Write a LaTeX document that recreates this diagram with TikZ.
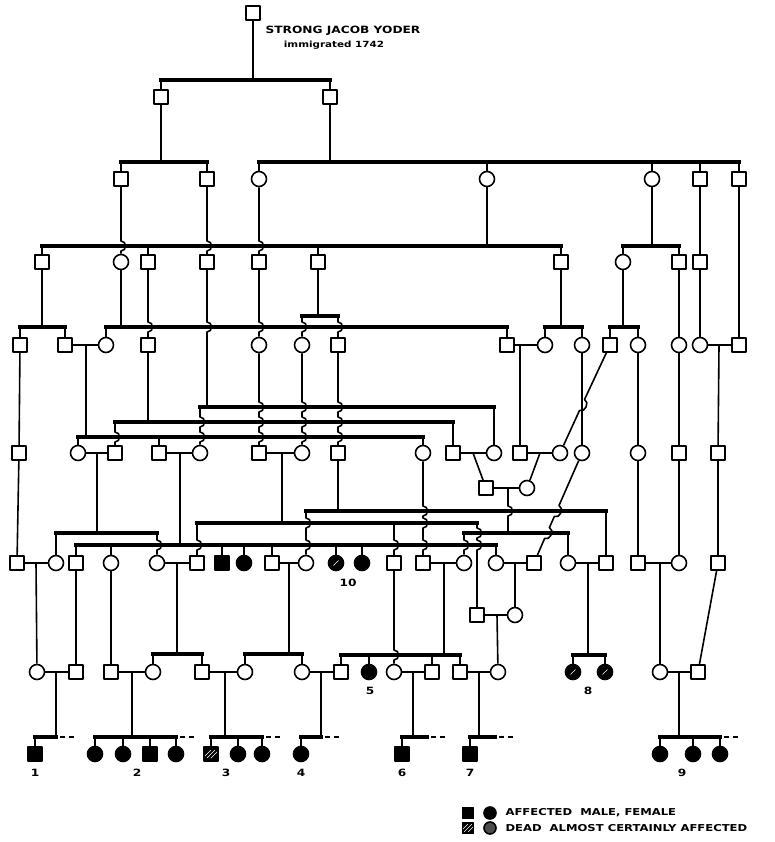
\documentclass[tikz,border=0pt]{standalone}
\usepackage{fontspec}
\usepackage{tikz}
\usetikzlibrary{calc}
\newfontfamily\lbl[FakeStretch=1.22]{DejaVu Sans}
\newcommand\hopv[2]{-- (#1,#2-5) .. controls +(6,0) and +(6,0) .. (#1,#2+5)}

\begin{document}
\begin{tikzpicture}[x=1pt,y=-1pt,line join=round,
  ln/.style={line width=1.6pt},
  sib/.style={line width=3.4pt,line cap=rect},
  dots/.style={line width=2.8pt,dash pattern=on 5pt off 4pt,dash phase=5pt},
  ml/.style={draw,rectangle,line width=1.6pt,fill=white,minimum size=13.5pt,inner sep=0pt},
  fe/.style={draw,circle,line width=1.6pt,fill=white,minimum size=15pt,inner sep=0pt},
  am/.style={ml,fill=black},
  af/.style={fe,fill=black},
  dm/.style={am,path picture={\foreach \d in {-4,0,4} \draw[white,line width=0.5pt] ([shift={(\d-4,4)}]path picture bounding box.center) -- ([shift={(\d+4,-4)}]path picture bounding box.center);}},
  df/.style={af,path picture={\draw[white,line width=0.6pt] ([shift={(-2.5,2.5)}]path picture bounding box.center) -- ([shift={(2.5,-2.5)}]path picture bounding box.center);}},
  num/.style={font=\lbl\bfseries\fontsize{10}{12}\selectfont}]
  \useasboundingbox (0,0) rectangle (775,842);
  \node[ml] (g1) at (253,13) {};
  \node[num,anchor=west] (ttl) at (262,31) {STRONG JACOB YODER};
  \node[font=\lbl\bfseries\fontsize{8.5}{10}\selectfont] (imm) at (334,45) {immigrated 1742};
  \node[ml] (g2a) at (161,97) {}; \node[ml] (g2b) at (330,97) {};
  \node[ml] (g3a) at (121,179) {}; \node[ml] (g3b) at (207,179) {}; \node[fe] (g3c) at (259,179) {}; \node[fe] (g3d) at (487,179) {};
  \node[fe] (g3e) at (652,179) {}; \node[ml] (g3f) at (700,179) {}; \node[ml] (g3g) at (739,179) {};
  \node[ml] (g4a) at (42,262) {}; \node[fe] (g4b) at (121,262) {}; \node[ml] (g4c) at (148,262) {}; \node[ml] (g4d) at (207,262) {};
  \node[ml] (g4e) at (259,262) {}; \node[ml] (g4f) at (318,262) {}; \node[ml] (g4g) at (561,262) {}; \node[fe] (g4h) at (623,262) {};
  \node[ml] (g4i) at (679,262) {}; \node[ml] (g4j) at (700,262) {};
  \node[ml] (g5a) at (20,345) {}; \node[ml] (g5b) at (65,345) {}; \node[fe] (g5c) at (106,345) {}; \node[ml] (g5d) at (148,345) {};
  \node[fe] (g5e) at (259,345) {}; \node[fe] (g5f) at (302,345) {}; \node[ml] (g5g) at (338,345) {}; \node[ml] (g5h) at (507,345) {};
  \node[fe] (g5i) at (545,345) {}; \node[fe] (g5j) at (582,345) {}; \node[ml] (g5k) at (610,345) {}; \node[fe] (g5l) at (638,345) {};
  \node[fe] (g5m) at (679,345) {}; \node[fe] (g5n) at (700,345) {}; \node[ml] (g5o) at (739,345) {};
  \node[ml] (g6a) at (19,453) {}; \node[fe] (g6b) at (78,453) {}; \node[ml] (g6c) at (115,453) {}; \node[ml] (g6d) at (159,453) {};
  \node[fe] (g6e) at (200,453) {}; \node[ml] (g6f) at (259,453) {}; \node[fe] (g6g) at (302,453) {}; \node[ml] (g6h) at (338,453) {};
  \node[fe] (g6i) at (423,453) {}; \node[ml] (g6j) at (453,453) {}; \node[fe] (g6k) at (494,453) {}; \node[ml] (g6l) at (520,453) {};
  \node[fe] (g6m) at (560,453) {}; \node[fe] (g6n) at (582,453) {}; \node[fe] (g6o) at (638,453) {}; \node[ml] (g6p) at (679,453) {};
  \node[ml] (g6q) at (718,453) {}; \node[ml] (g6r) at (486,488) {}; \node[fe] (g6s) at (527,488) {};
  \node[ml] (g7a) at (17,563) {}; \node[fe] (g7b) at (56,563) {}; \node[ml] (g7c) at (76,563) {}; \node[fe] (g7d) at (111,563) {};
  \node[fe] (g7e) at (157,563) {}; \node[ml] (g7f) at (197,563) {}; \node[am] (g7g) at (222,563) {}; \node[af] (g7h) at (244,563) {};
  \node[ml] (g7i) at (272,563) {}; \node[fe] (g7j) at (306,563) {}; \node[df] (g7k) at (336,563) {}; \node[af] (g7l) at (362,563) {};
  \node[ml] (g7m) at (394,563) {}; \node[ml] (g7n) at (423,563) {}; \node[fe] (g7o) at (464,563) {}; \node[fe] (g7p) at (496,563) {};
  \node[ml] (g7q) at (534,563) {}; \node[fe] (g7r) at (568,563) {}; \node[ml] (g7s) at (606,563) {}; \node[ml] (g7t) at (638,563) {};
  \node[fe] (g7u) at (679,563) {}; \node[ml] (g7v) at (718,563) {}; \node[ml] (g7w) at (477,615) {}; \node[fe] (g7x) at (515,615) {};
  \node[fe] (g8a) at (37,672) {}; \node[ml] (g8b) at (76,672) {}; \node[ml] (g8c) at (111,672) {}; \node[fe] (g8d) at (153,672) {};
  \node[ml] (g8e) at (202,672) {}; \node[fe] (g8f) at (245,672) {}; \node[fe] (g8g) at (302,672) {}; \node[ml] (g8h) at (341,672) {};
  \node[af] (g8i) at (369,672) {}; \node[fe] (g8j) at (394,672) {}; \node[ml] (g8k) at (432,672) {}; \node[ml] (g8l) at (460,672) {};
  \node[fe] (g8m) at (498,672) {}; \node[df] (g8n) at (573,672) {}; \node[df] (g8o) at (605,672) {}; \node[fe] (g8p) at (660,672) {};
  \node[ml] (g8q) at (698,672) {};
  \node[am] (g9a) at (35,754) {}; \node[af] (g9b) at (95,754) {}; \node[af] (g9c) at (123,754) {}; \node[am] (g9d) at (150,754) {};
  \node[af] (g9e) at (176,754) {}; \node[dm] (g9f) at (211,754) {}; \node[af] (g9g) at (238,754) {}; \node[af] (g9h) at (262,754) {};
  \node[af] (g9i) at (301,754) {}; \node[am] (g9j) at (402,754) {}; \node[am] (g9k) at (470,754) {}; \node[af] (g9l) at (660,754) {};
  \node[af] (g9m) at (693,754) {}; \node[af] (g9n) at (720,754) {};
  \node[num] (n10) at (348,583) {10}; \node[num] (n5) at (370,691) {5}; \node[num] (n8) at (588,691) {8};
  \node[num] (n1) at (35,773) {1}; \node[num] (n2) at (137,773) {2}; \node[num] (n3) at (226,773) {3}; \node[num] (n4) at (301,773) {4};
  \node[num] (n6) at (402,773) {6}; \node[num] (n7) at (470,773) {7}; \node[num] (n9) at (682,773) {9};
  \node[am,minimum size=11pt] (k1) at (468,813) {}; \node[af,minimum size=12pt] (k2) at (490,813) {};
  \node[num,anchor=west,font=\lbl\bfseries\fontsize{9.5}{11}\selectfont] (k3) at (502,813) {AFFECTED\ \ MALE, FEMALE};
  \node[dm,minimum size=11pt] (k4) at (468,828) {}; \node[af,fill=black!70,minimum size=12pt] (k5) at (490,828) {};
  \node[num,anchor=west,font=\lbl\bfseries\fontsize{9.5}{11}\selectfont] (k6) at (502,828) {DEAD\ \ ALMOST CERTAINLY AFFECTED};

  \coordinate (s1) at (253,80); \coordinate (s2a) at (161,162); \coordinate (s2b) at (330,162);
  \draw[ln] (g1) -- (s1); \draw[sib] (g2a |- s1) -- (g2b |- s1);
  \foreach \k in {g2a,g2b} \draw[ln] (\k) -- (\k |- s1);
  \draw[ln] (g2a) -- (s2a); \draw[ln] (g2b) -- (s2b);
  \draw[sib] (g3a |- s2a) -- (g3b |- s2a); \draw[sib] (g3c |- s2b) -- (g3g |- s2b);
  \foreach \k in {g3a,g3b} \draw[ln] (\k) -- (\k |- s2a);
  \foreach \k in {g3c,g3d,g3e,g3f,g3g} \draw[ln] (\k) -- (\k |- s2b);

  \coordinate (s3a) at (487,246); \coordinate (s3b) at (652,246);
  \draw[ln] (g3d) -- (s3a); \draw[ln] (g3e) -- (s3b);
  \draw[sib] (g4a |- s3a) -- (g4g |- s3a); \draw[sib] (g4h |- s3b) -- (g4i |- s3b);
  \foreach \k in {g4a,g4c,g4f,g4g} \draw[ln] (\k) -- (\k |- s3a);
  \foreach \k in {g4h,g4i} \draw[ln] (\k) -- (\k |- s3b);
  \draw[ln] (g3a) \hopv{121}{246} -- (g4b); \draw[ln] (g3b) \hopv{207}{246} -- (g4d); \draw[ln] (g3c) \hopv{259}{246} -- (g4e);
  \draw[ln] (g3f) -- (g4j); \draw[ln] (g3g) -- (g5o);

  \coordinate (s4a) at (42,327); \coordinate (s4b) at (121,327); \coordinate (s4c) at (318,316); \coordinate (s4d) at (561,327); \coordinate (s4e) at (623,327);
  \draw[ln] (g4a) -- (s4a); \draw[ln] (g4b) -- (s4b); \draw[ln] (g4f) -- (s4c); \draw[ln] (g4g) -- (s4d); \draw[ln] (g4h) -- (s4e);
  \draw[sib] (g5a |- s4a) -- (g5b |- s4a); \draw[sib] (g5c |- s4b) -- (g5h |- s4b); \draw[sib] (g5f |- s4c) -- (g5g |- s4c);
  \draw[sib] (g5i |- s4d) -- (g5j |- s4d); \draw[sib] (g5k |- s4e) -- (g5l |- s4e);
  \foreach \k/\z in {g5a/s4a,g5b/s4a,g5c/s4b,g5h/s4b,g5i/s4d,g5j/s4d,g5k/s4e,g5l/s4e} \draw[ln] (\k) -- (\k |- \z);
  \draw[ln] (g5f |- s4c) \hopv{302}{327} -- (g5f); \draw[ln] (g5g |- s4c) \hopv{338}{327} -- (g5g);
  \draw[ln] (g4c) \hopv{148}{327} -- (g5d); \draw[ln] (g4e) \hopv{259}{327} -- (g5e);
  \draw[ln] (g4i) -- (g5m); \draw[ln] (g4j) -- (g5n);
  \draw[ln] (g5b) -- (g5c); \draw[ln] (g5h) -- (g5i); \draw[ln] (g5n) -- (g5o);

  \coordinate (m5a) at (86,345); \coordinate (s5a) at (86,437); \coordinate (s5b) at (148,422); \coordinate (s5c) at (207,407);
  \coordinate (m5b) at (520,345); \coordinate (m5c) at (719,345);
  \draw[ln] (m5a) -- (s5a); \draw[ln] (g5d) -- (s5b); \draw[ln] (g4d) \hopv{207}{327} -- (s5c);
  \draw[sib] (g6b |- s5a) -- (g6i |- s5a); \draw[sib] (g6c |- s5b) -- (g6j |- s5b); \draw[sib] (g6e |- s5c) -- (g6k |- s5c);
  \foreach \k/\z in {g6b/s5a,g6d/s5a,g6i/s5a,g6j/s5b,g6k/s5c} \draw[ln] (\k) -- (\k |- \z);
  \draw[ln] (g6c |- s5b) \hopv{115}{437} -- (g6c);
  \draw[ln] (g6e |- s5c) \hopv{200}{422} \hopv{200}{437} -- (g6e);
  \draw[ln] (g5e) \hopv{259}{407} \hopv{259}{422} \hopv{259}{437} -- (g6f);
  \draw[ln] (g5f) \hopv{302}{407} \hopv{302}{422} \hopv{302}{437} -- (g6g);
  \draw[ln] (g5g) \hopv{338}{407} \hopv{338}{422} \hopv{338}{437} -- (g6h);
  \draw[ln] (g5a) -- (g6a); \draw[ln] (m5b) -- (g6l); \draw[ln] (g5j) -- (g6n);
  \draw[ln] (g5k) -- (584.5,399.5) .. controls (590,402) and (585,413) .. (579.5,410.5) -- (g6m);
  \draw[ln] (g5l) -- (g6o); \draw[ln] (g5m) -- (g6p); \draw[ln] (m5c) -- (g6q);

  \draw[ln] (g6b) -- (g6c); \draw[ln] (g6d) -- (g6e); \draw[ln] (g6f) -- (g6g); \draw[ln] (g6j) -- (g6k); \draw[ln] (g6l) -- (g6m); \draw[ln] (g6r) -- (g6s);
  \coordinate (m6e) at (473,453); \coordinate (m6f) at (540,453);
  \draw[ln] (m6e) -- (g6r); \draw[ln] (m6f) -- (g6s);

  \coordinate (m6a) at (97,453); \coordinate (s6a) at (97,533); \coordinate (m6b) at (180,453); \coordinate (s6b) at (180,545);
  \coordinate (m6c) at (282,453); \coordinate (s6c) at (282,523); \coordinate (s6d) at (338,511);
  \coordinate (m6g) at (508,488); \coordinate (s6g) at (508,533);
  \draw[ln] (m6a) -- (s6a); \draw[ln] (m6b) -- (s6b); \draw[ln] (m6c) -- (s6c); \draw[ln] (g6h) -- (s6d); \draw[ln] (m6g) \hopv{508}{511} -- (s6g);
  \draw[sib] (g7b |- s6a) -- (g7e |- s6a); \draw[sib] (g7c |- s6b) -- (g7p |- s6b); \draw[sib] (g7f |- s6c) -- (g7w |- s6c);
  \draw[sib] (g7j |- s6d) -- (g7s |- s6d); \draw[sib] (g7o |- s6g) -- (g7r |- s6g);
  \foreach \k/\z in {g7b/s6a,g7c/s6b,g7d/s6b,g7g/s6b,g7h/s6b,g7i/s6b,g7k/s6b,g7l/s6b,g7p/s6b,g7s/s6d,g7r/s6g} \draw[ln] (\k) -- (\k |- \z);
  \draw[ln] (g7e |- s6a) \hopv{157}{545} -- (g7e); \draw[ln] (g7f |- s6c) \hopv{197}{545} -- (g7f);
  \draw[ln] (g7m |- s6c) \hopv{394}{545} -- (g7m); \draw[ln] (g7w |- s6c) \hopv{477}{533} \hopv{477}{545} -- (g7w);
  \draw[ln] (g7j |- s6d) \hopv{306}{523} \hopv{306}{545} -- (g7j); \draw[ln] (g7o |- s6g) \hopv{464}{545} -- (g7o);
  \draw[ln] (g6i) \hopv{423}{511} \hopv{423}{523} \hopv{423}{545} -- (g7n);
  \draw[ln] (g6n) -- (559,505.5) .. controls (564.5,508) and (560,519) .. (554.3,516.5) -- (549.4,527.5) .. controls (555,530) and (550,541) .. (544.6,538.5) -- (g7q);
  \draw[ln] (g6a) -- (g7a); \draw[ln] (g6o) -- (g7t); \draw[ln] (g6p) -- (g7u); \draw[ln] (g6q) -- (g7v);

  \draw[ln] (g7a) -- (g7b); \draw[ln] (g7e) -- (g7f); \draw[ln] (g7i) -- (g7j); \draw[ln] (g7n) -- (g7o);
  \draw[ln] (g7p) -- (g7q); \draw[ln] (g7r) -- (g7s); \draw[ln] (g7t) -- (g7u); \draw[ln] (g7w) -- (g7x);
  \coordinate (m7a) at (36,563); \coordinate (m7b) at (177,563); \coordinate (s7b) at (177,654); \coordinate (m7c) at (289,563); \coordinate (s7c) at (289,654);
  \coordinate (m7d) at (444,563); \coordinate (s7d) at (444,655); \coordinate (m7e) at (515,563); \coordinate (m7f) at (497,615);
  \coordinate (m7g) at (588,563); \coordinate (s7g) at (588,655); \coordinate (m7h) at (660,563);
  \draw[ln] (m7a) -- (g8a); \draw[ln] (g7c) -- (g8b); \draw[ln] (g7d) -- (g8c); \draw[ln] (m7b) -- (s7b); \draw[ln] (m7c) -- (s7c);
  \draw[ln] (m7d) -- (s7d); \draw[ln] (m7e) -- (g7x); \draw[ln] (m7f) -- (g8m); \draw[ln] (m7g) -- (s7g); \draw[ln] (m7h) -- (g8p); \draw[ln] (g7v) -- (g8q);
  \draw[sib] (g8d |- s7b) -- (g8e |- s7b); \draw[sib] (g8f |- s7c) -- (g8g |- s7c); \draw[sib] (g8h |- s7d) -- (g8l |- s7d); \draw[sib] (g8n |- s7g) -- (g8o |- s7g);
  \foreach \k/\z in {g8d/s7b,g8e/s7b,g8f/s7c,g8g/s7c,g8h/s7d,g8i/s7d,g8k/s7d,g8l/s7d,g8n/s7g,g8o/s7g} \draw[ln] (\k) -- (\k |- \z);
  \draw[ln] (g7m) \hopv{394}{655} -- (g8j);

  \draw[ln] (g8a) -- (g8b); \draw[ln] (g8c) -- (g8d); \draw[ln] (g8e) -- (g8f); \draw[ln] (g8g) -- (g8h);
  \draw[ln] (g8j) -- (g8k); \draw[ln] (g8l) -- (g8m); \draw[ln] (g8p) -- (g8q);
  \coordinate (m8a) at (56,672); \coordinate (s8a) at (56,737); \coordinate (e8a) at (74,737);
  \coordinate (m8b) at (132,672); \coordinate (s8b) at (132,737); \coordinate (e8b) at (194,737);
  \coordinate (m8c) at (225,672); \coordinate (s8c) at (225,737); \coordinate (e8c) at (282,737);
  \coordinate (m8d) at (321,672); \coordinate (s8d) at (321,737); \coordinate (e8d) at (340,737);
  \coordinate (m8e) at (413,672); \coordinate (s8e) at (413,737); \coordinate (t8e) at (427,737); \coordinate (e8e) at (445,737);
  \coordinate (m8f) at (479,672); \coordinate (s8f) at (479,737); \coordinate (t8f) at (495,737); \coordinate (e8f) at (514,737);
  \coordinate (m8g) at (679,672); \coordinate (s8g) at (679,737); \coordinate (e8g) at (740,737);
  \foreach \k in {a,b,c,d,e,f,g} \draw[ln] (m8\k) -- (s8\k);
  \draw[sib] (g9a |- s8a) -- (s8a); \draw[dots] (s8a) -- (e8a);
  \draw[sib] (g9b |- s8b) -- (g9e |- s8b); \draw[dots] (g9e |- s8b) -- (e8b);
  \draw[sib] (g9f |- s8c) -- (g9h |- s8c); \draw[dots] (g9h |- s8c) -- (e8c);
  \draw[sib] (g9i |- s8d) -- (s8d); \draw[dots] (s8d) -- (e8d);
  \draw[sib] (g9j |- s8e) -- (t8e); \draw[dots] (t8e) -- (e8e);
  \draw[sib] (g9k |- s8f) -- (t8f); \draw[dots] (t8f) -- (e8f);
  \draw[sib] (g9l |- s8g) -- (g9n |- s8g); \draw[dots] (g9n |- s8g) -- (e8g);
  \foreach \k in {g9a,g9b,g9c,g9d,g9e,g9f,g9g,g9h,g9i,g9j,g9k,g9l,g9m,g9n} \draw[ln] (\k) -- (\k |- s8a);
\end{tikzpicture}
\end{document}
